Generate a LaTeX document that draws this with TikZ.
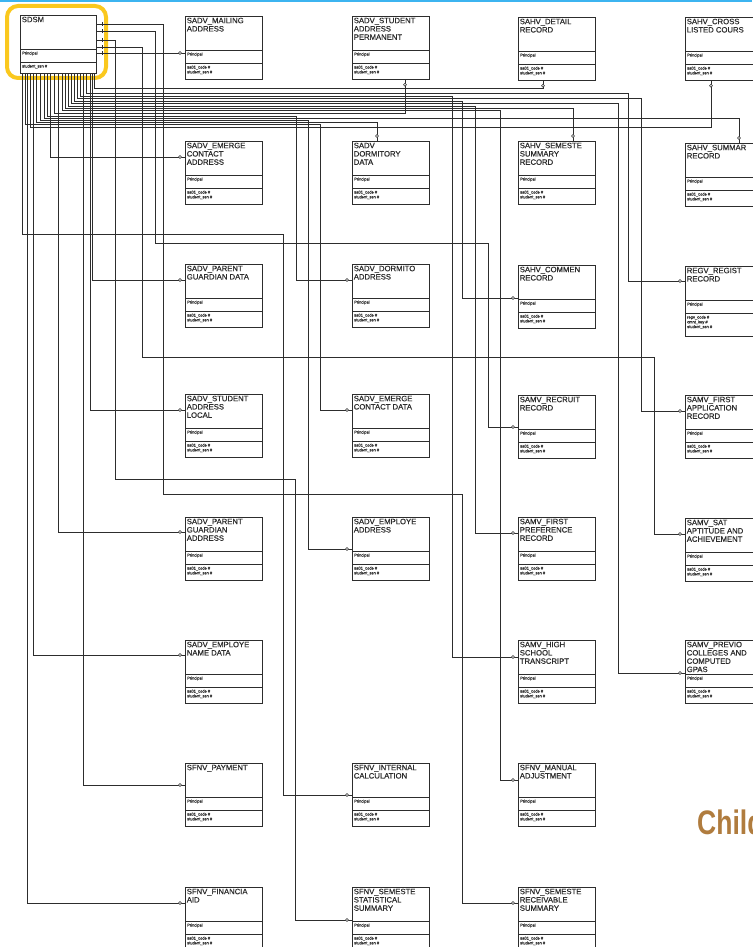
\documentclass[tikz,border=0pt]{standalone}
\usepackage{fontspec}
\setmainfont{Liberation Sans}
\newfontfamily\scanfont{Liberation Sans}[FakeBold=0.6]
\usetikzlibrary{decorations.markings}

\newcommand{\keytext}{sa01\_code \#\\student\_ssn \#}
% one table: [node options]{name}{x}{y}{title}{entry offset}
\newcommand{\erbox}[6][]{%
	\node[erbox,#1] (#2) at (#3,#4) {};
	\node[ertitle] at (#2.north west) {#5};
	\draw[erline] ([yshift=-34pt]#2.north west) -- ([yshift=-34pt]#2.north east)
	              ([yshift=-47pt]#2.north west) -- ([yshift=-47pt]#2.north east);
	\node[ersmall] at ([yshift=-35pt]#2.north west) {Principal};
	\node[ersmall] at ([yshift=-48pt]#2.north west) {\keytext};
	\coordinate (#2-in) at ([yshift=-#6pt]#2.north west);
}

\begin{document}
\begin{tikzpicture}[x=1pt,y=-1pt]
		
		\definecolor{scan}{RGB}{45,45,45}
		\definecolor{hiyellow}{RGB}{250,200,30}
		\definecolor{topblue}{RGB}{60,180,240}
		\definecolor{childbrown}{RGB}{176,124,62}
		
		\useasboundingbox (0,0) rectangle (752,947);
		\fill[white] (0,0) rectangle (752,947);
		\fill[topblue] (0,0) rectangle (752,2.5);
		
		\tikzset{erbox/.style = {draw=scan, line width=0.7pt, anchor=north west, minimum width=77pt, minimum height=63pt, inner sep=0pt}}
		\tikzset{erline/.style = {draw=scan, line width=0.6pt}}
		\tikzset{ertitle/.style = {anchor=north west, inner sep=1.6pt, align=left, text=scan, font=\scanfont\fontsize{7.7}{8.3}\selectfont}}
		\tikzset{ersmall/.style = {anchor=north west, inner xsep=2pt, inner ysep=1.4pt, align=left, text=scan, font=\scanfont\fontsize{4}{4.8}\selectfont}}
		\tikzset{link/.style = {draw=scan, line width=0.55pt, postaction={decorate},
				decoration={markings, mark=at position -5pt with {\draw[fill=white, line width=0.45pt] (0,0) circle (1.5pt);}}}}
		\tikzset{exitlink/.style = {draw=scan, line width=0.55pt, postaction={decorate},
				decoration={markings, mark=at position 6pt with {\draw[line width=0.45pt] (0,-2pt) -- (0,2pt);},
					mark=at position -5pt with {\draw[fill=white, line width=0.45pt] (0,0) circle (1.5pt);}}}}
		\tikzset{childlbl/.style = {anchor=base west, inner sep=0pt, text=childbrown, font=\fontsize{34}{34}\bfseries\selectfont}}
		
		% parent
		{\renewcommand{\keytext}{student\_ssn \#}
		\erbox[minimum width=76pt, minimum height=58pt]{sdsm}{20}{15}{SDSM}{20}}
		\draw[hiyellow, line width=4pt, rounded corners=11pt] (7,6) rectangle (106,78);
		
		% row 1
		\erbox{mail}{185}{16}{SADV\_MAILING\\ADDRESS}{37}
		\erbox{stperm}{352}{16}{SADV\_STUDENT\\ADDRESS\\PERMANENT}{30}
		\erbox{detail}{518}{17}{SAHV\_DETAIL\\RECORD}{30}
		\erbox{cross}{685}{17}{SAHV\_CROSS\\LISTED COURS}{30}
		% row 2
		\erbox{emca}{185}{141}{SADV\_EMERGE\\CONTACT\\ADDRESS}{16}
		\erbox{dord}{352}{141}{SADV\\DORMITORY\\DATA}{16}
		\erbox{semsum}{518}{141}{SAHV\_SEMESTE\\SUMMARY\\RECORD}{16}
		\erbox{summar}{685}{143}{SAHV\_SUMMAR\\RECORD}{16}
		% row 3
		\erbox{pgd}{185}{264}{SADV\_PARENT\\GUARDIAN DATA}{16}
		\erbox{dora}{352}{264}{SADV\_DORMITO\\ADDRESS}{16}
		\erbox{commen}{518}{265}{SAHV\_COMMEN\\RECORD}{33}
		{\renewcommand{\keytext}{regv\_code \#\\cmnt\_key \#\\student\_ssn \#}
		\erbox[minimum height=70pt]{regist}{685}{266}{REGV\_REGIST\\RECORD}{15}}
		% row 4
		\erbox{sal}{185}{394}{SADV\_STUDENT\\ADDRESS\\LOCAL}{16}
		\erbox{ecd}{352}{394}{SADV\_EMERGE\\CONTACT DATA}{16}
		\erbox{recruit}{518}{395}{SAMV\_RECRUIT\\RECORD}{32}
		\erbox{fapp}{685}{395}{SAMV\_FIRST\\APPLICATION\\RECORD}{16}
		% row 5
		\erbox{pga}{185}{517}{SADV\_PARENT\\GUARDIAN\\ADDRESS}{15}
		\erbox{empa}{352}{517}{SADV\_EMPLOYE\\ADDRESS}{32}
		\erbox{fpref}{518}{517}{SAMV\_FIRST\\PREFERENCE\\RECORD}{16}
		\erbox{sat}{685}{518}{SAMV\_SAT\\APTITUDE AND\\ACHIEVEMENT}{16}
		% row 6
		\erbox{empn}{185}{640}{SADV\_EMPLOYE\\NAME DATA}{15}
		\erbox{high}{518}{640}{SAMV\_HIGH\\SCHOOL\\TRANSCRIPT}{17}
		\erbox{previo}{685}{640}{SAMV\_PREVIO\\COLLEGES AND\\COMPUTED\\GPAS}{33}
		% row 7
		\erbox{pay}{185}{763}{SFNV\_PAYMENT}{22}
		\erbox{intc}{352}{763}{SFNV\_INTERNAL\\CALCULATION}{32}
		\erbox{manual}{518}{763}{SFNV\_MANUAL\\ADJUSTMENT}{17}
		% row 8
		\erbox{finaid}{185}{887}{SFNV\_FINANCIA\\AID}{16}
		\erbox{stat}{352}{887}{SFNV\_SEMESTE\\STATISTICAL\\SUMMARY}{33}
		\erbox{recv}{518}{887}{SFNV\_SEMESTE\\RECEIVABLE\\SUMMARY}{16}
		
		\node[childlbl] (child) at (697,834) {\scalebox{0.78}[1]{Child}};
		
		% ends on top / bottom edges
		\coordinate (detail-bot) at ([xshift=25pt]detail.south west);
		\coordinate (stperm-bot) at ([xshift=53pt]stperm.south west);
		\coordinate (cross-bot) at ([xshift=26pt]cross.south west);
		\coordinate (semsum-top) at ([xshift=55pt]semsum.north west);
		\coordinate (summar-top) at ([xshift=54pt]summar.north west);
		\coordinate (dord-top) at ([xshift=25pt]dord.north west);
		
		% starts on sdsm
		\foreach \sx in {22,25,27,30,33,36,40,44,47,50,54,58,62,65,68,71,74,77,80,83,86,90,92,94}
			\coordinate (s\sx) at (\sx,0 |- sdsm.south);
		\foreach \ry in {24,31,40,47,53}
			\coordinate (r\ry) at (sdsm.east |- 0,\ry);
		
		% from the right side
		\draw[exitlink] (r53) -- (mail-in);
		\draw[exitlink] (r24) -| (163,494) -| (462,903) -- (recv-in);
		\draw[exitlink] (r31) -| (155,243) -| (488,427) -- (recruit-in);
		\draw[exitlink] (r40) -| (115,479) -| (295,920) -- (stat-in);
		\draw[exitlink] (r47) -| (142,357) -| (654,534) -- (sat-in);
		
		% straight down the left
		\draw[link] (s50) |- (emca-in);
		\draw[link] (s92) |- (pgd-in);
		\draw[link] (s90) |- (sal-in);
		\draw[link] (s58) |- (pga-in);
		\draw[link] (s33) |- (empn-in);
		\draw[link] (s83) |- (pay-in);
		\draw[link] (s27) |- (finaid-in);
		\draw[link] (s22) |- (283,234) |- (intc-in);
		
		% along the bus
		\draw[link] (s94) |- (detail-bot |- 0,88) -- (detail-bot);
		\draw[link] (s86) |- (628,93) |- (regist-in);
		\draw[link] (s80) |- (452,96) |- (high-in);
		\draw[link] (s77) |- (641,98) |- (fapp-in);
		\draw[link] (s74) |- (462,101) |- (commen-in);
		\draw[link] (s71) |- (618,103) |- (previo-in);
		\draw[link] (s68) |- (475,106) |- (fpref-in);
		\draw[link] (s65) |- (semsum-top |- 0,108) -- (semsum-top);
		\draw[link] (s62) |- (500,110) |- (manual-in);
		\draw[link] (s54) |- (stperm-bot |- 0,113) -- (stperm-bot);
		\draw[link] (s47) |- (296,116) |- (dora-in);
		\draw[link] (s44) |- (summar-top |- 0,118) -- (summar-top);
		\draw[link] (s40) |- (308,120) |- (empa-in);
		\draw[link] (s36) |- (dord-top |- 0,122) -- (dord-top);
		\draw[link] (s25) |- (320,124) |- (ecd-in);
		\draw[link] (s30) |- (cross-bot |- 0,127) -- (cross-bot);
		
\end{tikzpicture}
\end{document}
